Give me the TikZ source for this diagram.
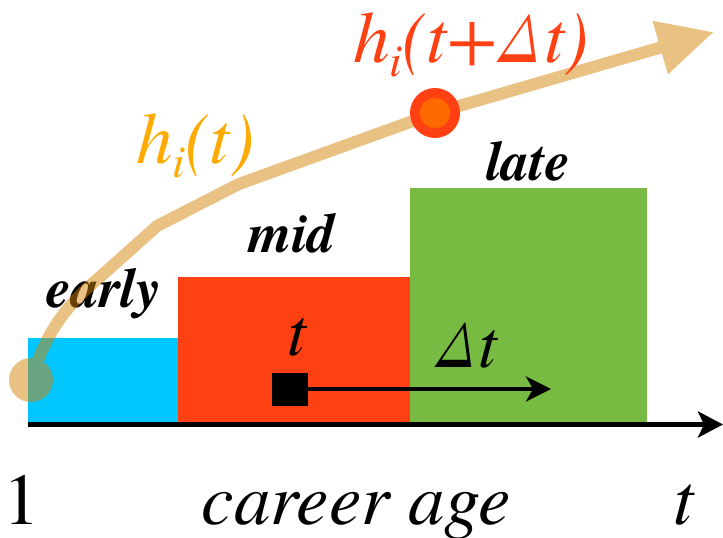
\documentclass[tikz,border=0pt]{standalone}
\usepackage{fontspec}
\setmainfont{TeX Gyre Termes}
\usetikzlibrary{arrows.meta,positioning}
\definecolor{earlyblue}{HTML}{00C6FF}
\definecolor{midred}{HTML}{FF4013}
\definecolor{lategreen}{HTML}{78BB42}
\definecolor{trendtan}{HTML}{D38305}
\definecolor{hiorange}{HTML}{FFAA00}
\definecolor{dotorange}{HTML}{FF6A00}
\newcommand{\axisfont}{\fontsize{73}{80}\selectfont}
\newcommand{\stagefont}{\fontsize{56}{62}\selectfont}
\newcommand{\markfont}{\fontsize{68}{74}\selectfont}
\newcommand{\subidx}[1]{\raisebox{-0.2em}{\fontsize{46}{50}\selectfont #1}}
\tikzset{
  >=Stealth,
  bar/.style={draw=none,inner sep=0pt,anchor=south west},
  stage/.style={font=\stagefont\bfseries\itshape,inner sep=0pt,anchor=base},
  axislabel/.style={font=\axisfont,inner sep=0pt,anchor=base},
  marklabel/.style={font=\markfont\itshape,inner sep=0pt,anchor=base},
  trend/.style={line width=12pt,draw=trendtan,line join=round,-{Triangle[length=56pt,width=52pt]}},
  axisarr/.style={line width=5.5pt,draw=black,-{Stealth[length=25pt,width=26pt,inset=6pt]}},
  steparr/.style={line width=4pt,draw=black,-{Stealth[length=25pt,width=25pt,inset=7pt]}}
}

\begin{document}
\begin{tikzpicture}[x=1pt,y=-1pt]
  \useasboundingbox (0,0) rectangle (723,538);

  % career stages
  \node[bar,fill=earlyblue,minimum width=150pt,minimum height=86pt] (earlyBar) at (28,424) {};
  \node[bar,fill=midred,minimum width=232pt,minimum height=147pt] (midBar) at (178,424) {};
  \node[bar,fill=lategreen,minimum width=237pt,minimum height=236pt] (lateBar) at (410,424) {};
  \node[stage] (earlyText) at (104,307) {early};
  \node[stage] (midText) at (292,252) {mid};
  \node[stage] (lateText) at (528,180) {late};

  % axis
  \coordinate (axisStart) at (28,424.5);
  \coordinate (axisEnd) at (723,424.5);
  \draw[axisarr] (axisStart) -- (axisEnd);
  \node[axislabel] (oneText) at (22,524) {1};
  \node[axislabel,font=\axisfont\itshape] (ageText) at (356,524) {career age};
  \node[axislabel,font=\axisfont\itshape] (tEnd) at (684,524) {t};

  % window t -> t + Delta t
  \node[fill=black,minimum width=36pt,minimum height=33pt,inner sep=0pt] (tMark) at (290,389) {};
  \coordinate (dtEnd) at (551,389);
  \draw[steparr] (tMark.east) -- (dtEnd);
  \node[marklabel] (tText) at (297,355) {t};
  \node[marklabel] (dtText) at (466,367) {Δt};

  % trajectory h_i(t)
  \coordinate (k1) at (100,277);
  \coordinate (k2) at (157,226);
  \coordinate (k3) at (239,184);
  \coordinate (k4) at (607,63);
  \coordinate (trendEnd) at (714,32);
  \coordinate (hiPoint) at (435,113);
  \begin{scope}[transparency group,opacity=0.5]
    \node[circle,fill=trendtan,minimum size=44pt,inner sep=0pt] (startDot) at (31,380) {};
    \draw[trend] (startDot.center) to[out=72,in=220] (k1) -- (k2) -- (k3) -- (hiPoint) -- (k4) -- (trendEnd);
  \end{scope}
  \node[circle,fill=midred,minimum width=50pt,minimum height=50pt,inner sep=0pt] (hiDot) at (hiPoint) {};
  \node[circle,fill=dotorange,minimum size=30pt,inner sep=0pt] at (hiDot) {};

  \node[font=\axisfont\itshape,text=hiorange,inner sep=0pt,anchor=base west] (hiText) at (136,163) {h\subidx{i}(t)};
  \node[font=\axisfont\itshape,text=midred,inner sep=0pt,anchor=base west] (hiNextText) at (353,62) {h\subidx{i}(t+Δt)};
\end{tikzpicture}
\end{document}
